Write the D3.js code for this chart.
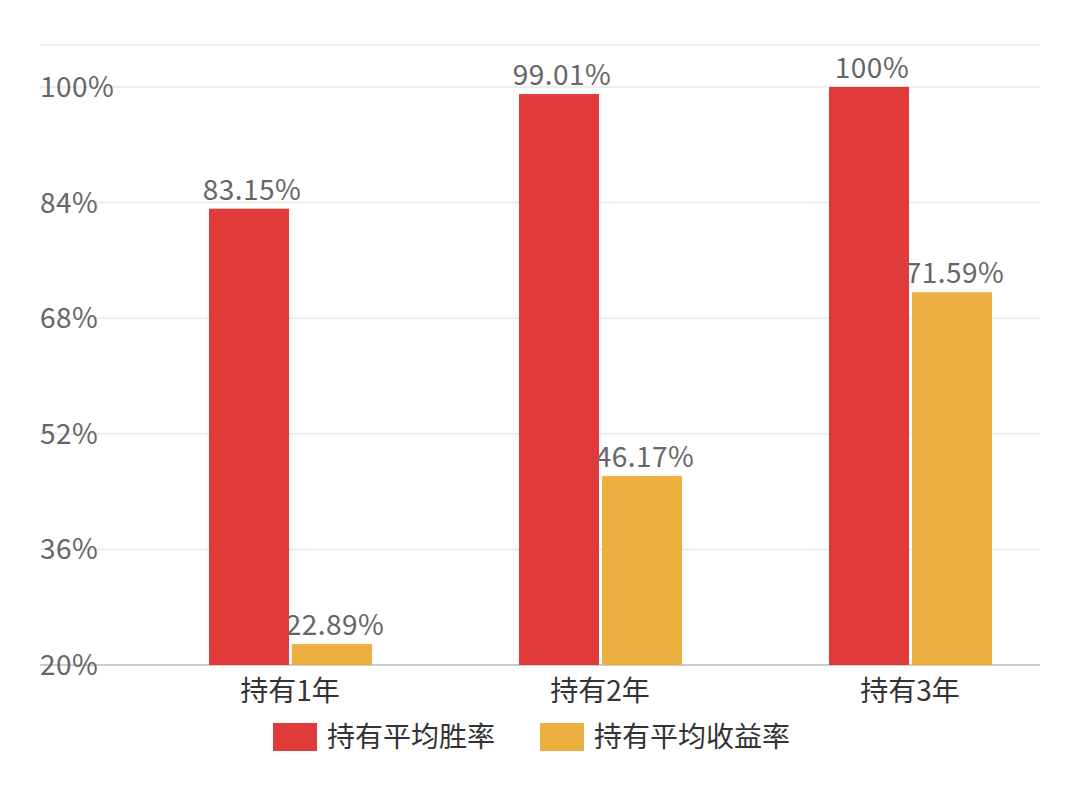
<!DOCTYPE html><html><head><meta charset="utf-8"><script src="https://cdn.jsdelivr.net/npm/d3@7"></script>
<style>body{margin:0;background:#fff}text{font-family:"Noto Sans CJK SC","Noto Sans",sans-serif}</style></head><body>
<svg id="c" width="1080" height="797"></svg>
<script>
const categories=["持有1年","持有2年","持有3年"];
const seriesNames=["持有平均胜率","持有平均收益率"];
const winRate=[83.15,99.01,100];
const returnRate=[22.89,46.17,71.59];
const yTicks=[20,36,52,68,84,100];
const colors=["#e03a3a","#ecb040"];
const svg=d3.select("#c");
const y=d3.scaleLinear().domain([20,105.8]).range([665,45]);
const x=d3.scaleBand().domain(categories).range([135,1065]);
svg.selectAll(".g").data(yTicks.slice(1).concat([105.8])).enter().append("line")
 .attr("x1",40).attr("x2",1040).attr("y1",d=>y(d)).attr("y2",d=>y(d)).attr("stroke","#eee").attr("stroke-width",2);
svg.append("line").attr("x1",40).attr("x2",1040).attr("y1",y(20)).attr("y2",y(20)).attr("stroke","#ccc").attr("stroke-width",2);
svg.selectAll(".yt").data(yTicks).enter().append("text").attr("x",40).attr("y",d=>y(d)+10)
 .attr("font-size",28).attr("letter-spacing",0.5).attr("fill","#666").text(d=>d+"%");
const series=[winRate,returnRate];
const bw=80;
series.forEach((s,i)=>{
 const off=i===0?-81:2;
 svg.selectAll(".b"+i).data(s).enter().append("rect")
  .attr("x",(d,j)=>x(categories[j])+x.bandwidth()/2+off).attr("width",bw)
  .attr("y",d=>y(d)).attr("height",d=>y(20)-y(d)).attr("fill",colors[i]);
 svg.selectAll(".l"+i).data(s).enter().append("text")
  .attr("x",(d,j)=>x(categories[j])+x.bandwidth()/2+off+bw/2+3).attr("y",d=>y(d)-9)
  .attr("text-anchor","middle").attr("font-size",28).attr("letter-spacing",0.5).attr("fill","#666").text(d=>d+"%");
});
svg.selectAll(".ct").data(categories).enter().append("text")
 .attr("x",d=>x(d)+x.bandwidth()/2).attr("y",701).attr("text-anchor","middle")
 .attr("font-size",28).attr("fill","#333").text(d=>d);
const lx=[273,540];
seriesNames.forEach((n,i)=>{
 svg.append("rect").attr("x",lx[i]).attr("y",723).attr("width",44).attr("height",28).attr("fill",colors[i]);
 svg.append("text").attr("x",lx[i]+54).attr("y",747).attr("font-size",28).attr("fill","#333").text(n);
});
</script></body></html>
